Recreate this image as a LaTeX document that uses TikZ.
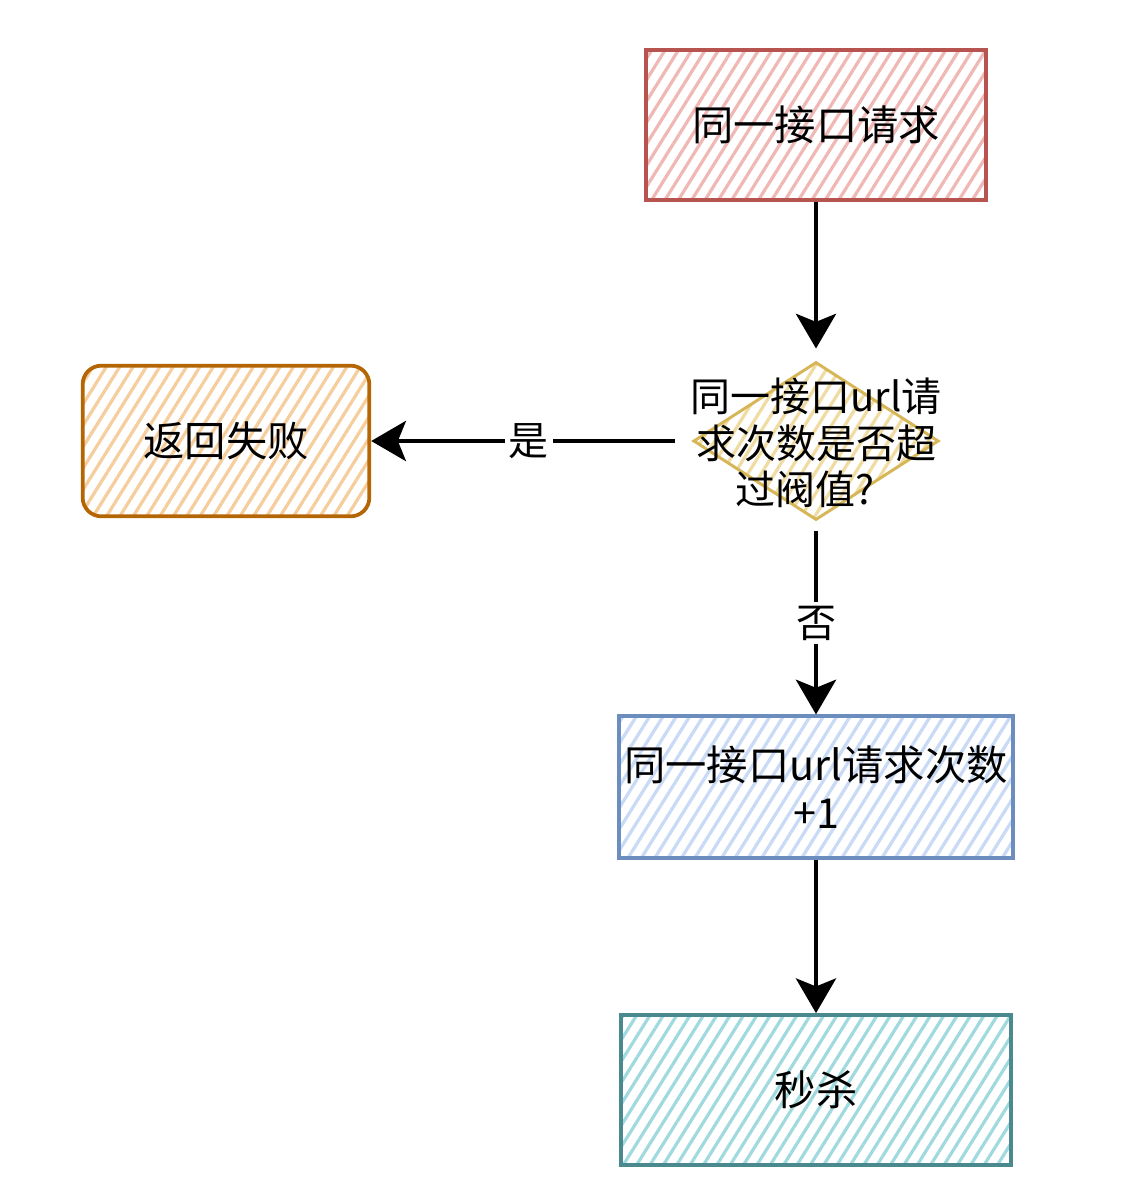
\documentclass[tikz,border=0pt]{standalone}
\usepackage{fontspec}
\setmainfont{Noto Sans CJK SC}
\usetikzlibrary{shapes.geometric,patterns.meta,arrows.meta}
\definecolor{redS}{HTML}{B85450}
\definecolor{redF}{HTML}{F0B8B5}
\definecolor{orS}{HTML}{B46504}
\definecolor{orF}{HTML}{F6CD9C}
\definecolor{yeS}{HTML}{D6B656}
\definecolor{yeF}{HTML}{F0DCA2}
\definecolor{blS}{HTML}{6C8EBF}
\definecolor{blF}{HTML}{C8DAF5}
\definecolor{teS}{HTML}{4A8A8E}
\definecolor{teF}{HTML}{A0DADE}
\tikzset{
  hatch/.style={pattern={Lines[angle=58,distance=8.5pt,line width=2.4pt]}},
  box/.style={draw, line width=2.8pt, hatch, inner sep=0pt, align=center},
  lbl/.style={font=\fontsize{31pt}{36pt}\selectfont, align=center},
  arr/.style={draw=black, line width=3.6pt, -{Stealth[length=26pt,width=30pt,inset=6pt]}},
  tag/.style={fill=white, inner sep=3pt, font=\fontsize{30pt}{35pt}\selectfont}
}
\begin{document}
\begin{tikzpicture}[x=0.75pt,y=-0.75pt]
\useasboundingbox (0,0) rectangle (1134,1200);
\fill[white] (0,0) rectangle (1134,1200);
\node[box, draw=redS, pattern color=redF, minimum width=255pt, minimum height=112.5pt, lbl] (req) at (816,125) {同一接口请求};
\node[box, draw=orS, pattern color=orF, rounded corners=14pt, minimum width=215pt, minimum height=113pt, lbl] (fail) at (226,441) {返回失败};
\node[diamond, draw=yeS, line width=2.2pt, hatch, pattern color=yeF, minimum width=184pt, minimum height=118.5pt, inner sep=0pt] (dec) at (816,441) {};
\node[lbl, font=\fontsize{30pt}{35pt}\selectfont] (dectext) at (816,443) {同一接口url请\\求次数是否超\\过阀值?\hphantom{a}};
\node[box, draw=blS, pattern color=blF, minimum width=295pt, minimum height=106pt, lbl] (cnt) at (816,787) {同一接口url请求次数\\+1};
\node[box, draw=teS, pattern color=teF, minimum width=293pt, minimum height=112.5pt, lbl] (kill) at (816,1090) {秒杀};
\draw[arr] (req.south) -- ([yshift=9pt]dec.north);
\draw[arr] ([xshift=-13pt]dec.west) -- node[tag, pos=0.48] {是} (fail.east);
\draw[arr] ([yshift=-7.5pt]dec.south) -- node[tag] {否} (cnt.north);
\draw[arr] (cnt.south) -- (kill.north);
\end{tikzpicture}
\end{document}
